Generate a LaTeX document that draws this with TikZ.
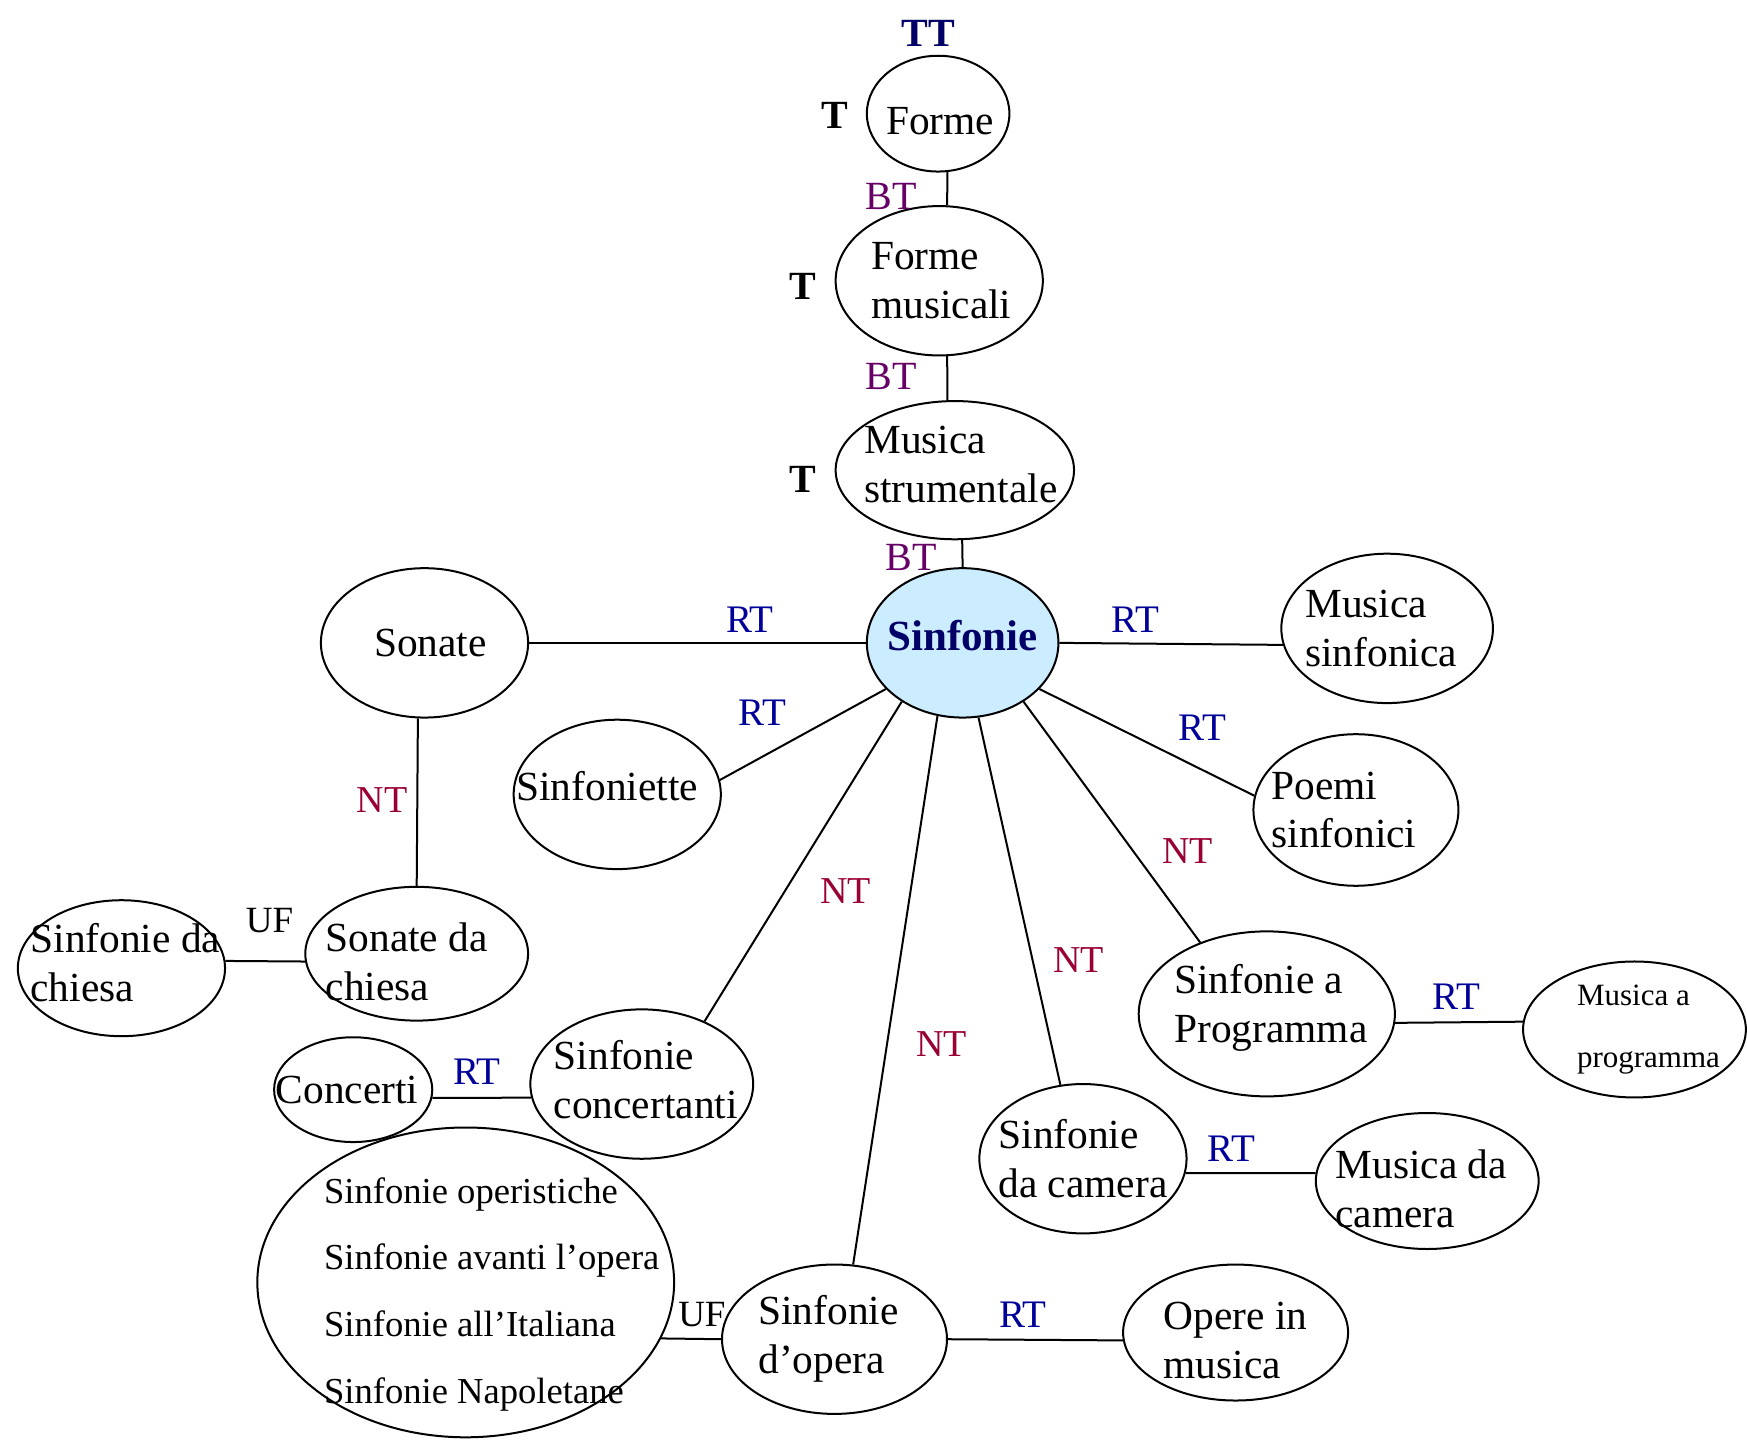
\documentclass[tikz,border=0pt]{standalone}
\usepackage{fontspec}
\setmainfont{Liberation Serif}
\usetikzlibrary{shapes.geometric}

\definecolor{ttnavy}{RGB}{0,0,102}
\definecolor{btpurple}{RGB}{102,0,102}
\definecolor{rtblue}{RGB}{0,0,153}
\definecolor{ntred}{RGB}{153,0,51}
\definecolor{sinfblue}{RGB}{204,236,255}

\tikzset{
	term/.style={ellipse, draw, inner sep=0pt},
	termtext/.style={align=left, inner sep=0pt, font=\fontsize{20.7}{24.5}\selectfont},
	relRT/.style={text=rtblue, inner sep=0.75pt, font=\fontsize{19.5}{22}\selectfont},
	relNT/.style={text=ntred, inner sep=0.75pt, font=\fontsize{19}{22}\selectfont},
	relBT/.style={text=btpurple, inner sep=0.75pt, font=\fontsize{20}{22}\selectfont},
	relUF/.style={inner sep=0.75pt, font=\fontsize{18.5}{22}\selectfont},
	relTT/.style={text=ttnavy, inner sep=0.75pt, font=\fontsize{20}{22}\selectfont\bfseries},
	relT/.style={inner sep=0.75pt, font=\fontsize{20}{22}\selectfont\bfseries}
}

\begin{document}
\begin{tikzpicture}[x=0.5571pt,y=0.5571pt,yscale=-1,xscale=1,line width=1pt]
	\useasboundingbox (0,0) rectangle (1568,1292);
	% terms
	\node [term, minimum width=71.3pt, minimum height=57.9pt, label={[termtext, xshift=1pt, yshift=-4pt]center:Forme}] (forme) at (842,102) {};
	\node [term, minimum width=103.6pt, minimum height=74.7pt, label={[termtext, xshift=1pt]center:{Forme\\musicali}}] (formemus) at (843,252) {};
	\node [term, minimum width=119.2pt, minimum height=69.1pt, label={[termtext, xshift=3pt, yshift=3pt]center:{Musica\\strumentale}}] (musstr) at (857,422) {};
	\node [term, fill=sinfblue, minimum width=95.8pt, minimum height=74.7pt, label={[termtext, text=ttnavy, font=\fontsize{21.5}{24.5}\selectfont\bfseries, yshift=3.5pt]center:Sinfonie}] (sinfonie) at (864,577) {};
	\node [term, minimum width=103.6pt, minimum height=74.7pt, label={[termtext, xshift=3pt]center:Sonate}] (sonate) at (381,577) {};
	\node [term, minimum width=105.8pt, minimum height=74.7pt, label={[termtext, xshift=-3pt]center:{Musica\\sinfonica}}] (mussinf) at (1245,564) {};
	\node [term, minimum width=103.6pt, minimum height=74.7pt, label={[termtext, xshift=-5pt, yshift=4pt]center:Sinfoniette}] (sinfoniette) at (554,713) {};
	\node [term, minimum width=102.5pt, minimum height=75.8pt, label={[termtext, xshift=-6pt]center:{Poemi\\sinfonici}}] (poemi) at (1217,727) {};
	\node [term, minimum width=111.4pt, minimum height=66.9pt, label={[termtext, xshift=-5pt, yshift=-4pt]center:{Sonate da\\chiesa}}] (sonchiesa) at (374,856) {};
	\node [term, minimum width=103.6pt, minimum height=68pt, label={[termtext, xshift=2pt, yshift=3pt]center:{Sinfonie da\\chiesa}}] (sinfchiesa) at (109,869) {};
	\node [term, minimum width=128.1pt, minimum height=82.5pt, label={[termtext, xshift=2pt, yshift=3pt]center:{Sinfonie a\\Programma}}] (programma) at (1137,910) {};
	\node [term, minimum width=111.4pt, minimum height=68pt, label={[termtext, font=\fontsize{15.5}{31}\selectfont, xshift=7pt]center:{Musica a\\programma}}] (musprog) at (1467,924) {};
	\node [term, minimum width=79.1pt, minimum height=52.4pt, label={[termtext, xshift=-3pt]center:Concerti}] (concerti) at (317,978) {};
	\node [term, minimum width=111.4pt, minimum height=74.7pt, label={[termtext, xshift=2pt, yshift=2pt]center:{Sinfonie\\concertanti}}] (concertanti) at (576,973) {};
	\node [term, minimum width=103.6pt, minimum height=74.7pt, label={[termtext]center:{Sinfonie\\da camera}}] (camera) at (972,1040) {};
	\node [term, minimum width=111.4pt, minimum height=68pt, label={[termtext, xshift=-3pt, yshift=-4pt]center:{Musica da\\camera}}] (muscam) at (1281,1060) {};
	\node [term, minimum width=208.4pt, minimum height=154.9pt, label={[termtext, font=\fontsize{18.3}{33.4}\selectfont, xshift=13pt, yshift=-6pt]center:{Sinfonie operistiche\\Sinfonie avanti l’opera\\Sinfonie all’Italiana\\Sinfonie Napoletane}}] (biglist) at (418,1151) {};
	\node [term, minimum width=112.5pt, minimum height=74.7pt, label={[termtext, xshift=-3pt]center:{Sinfonie\\d’opera}}] (opera) at (749,1202) {};
	\node [term, minimum width=112.5pt, minimum height=68pt, label={[termtext, yshift=-4pt]center:{Opere in\\musica}}] (opere) at (1109,1196) {};
	% connectors
	\draw (forme.279) -- (formemus.84);
	\draw (formemus.276) -- (musstr.96);
	\draw (musstr.276) -- (sinfonie.north);
	\draw (sonate.east) -- (sinfonie.west);
	\draw (sinfonie.east) -- (mussinf.189);
	\draw (sinfonie.211) -- (sinfoniette.8);
	\draw (sinfonie.329) -- (poemi.172);
	\draw (sinfonie.224) -- (concertanti.45);
	\draw (sinfonie.251) -- (opera.76);
	\draw (sinfonie.282) -- (camera.107);
	\draw (sinfonie.316) -- (programma.133);
	\draw (sonate.265) -- (sonchiesa.north);
	\draw (sinfchiesa.4) -- (sonchiesa.184);
	\draw (programma.356) -- (musprog.176);
	\draw (concerti.354) -- (concertanti.187);
	\draw (camera.352) -- (muscam.176);
	\draw (biglist.344) -- (opera.west);
	\draw (opera.east) -- (opere.184);
	% relation codes
	\draw (833,30) node [relTT] (ttA) {TT};
	\draw (749,104) node [relT] (tA) {T};
	\draw (721,257) node [relT] (tB) {T};
	\draw (721,430) node [relT] (tC) {T};
	\draw (800,176) node [relBT] (btA) {BT};
	\draw (800,338) node [relBT] (btB) {BT};
	\draw (818,500) node [relBT] (btC) {BT};
	\draw (673,556) node [relRT] (rtA) {RT};
	\draw (1019,556) node [relRT] (rtB) {RT};
	\draw (684,640) node [relRT] (rtC) {RT};
	\draw (1079,653) node [relRT] (rtD) {RT};
	\draw (1307,895) node [relRT] (rtE) {RT};
	\draw (428,962) node [relRT] (rtF) {RT};
	\draw (1105,1031) node [relRT] (rtG) {RT};
	\draw (918,1180) node [relRT] (rtH) {RT};
	\draw (343,718) node [relNT] (ntA) {NT};
	\draw (759,800) node [relNT] (ntB) {NT};
	\draw (1066,764) node [relNT] (ntC) {NT};
	\draw (968,862) node [relNT] (ntD) {NT};
	\draw (845,937) node [relNT] (ntE) {NT};
	\draw (242,826) node [relUF] (ufA) {UF};
	\draw (630,1180) node [relUF] (ufB) {UF};
\end{tikzpicture}
\end{document}
